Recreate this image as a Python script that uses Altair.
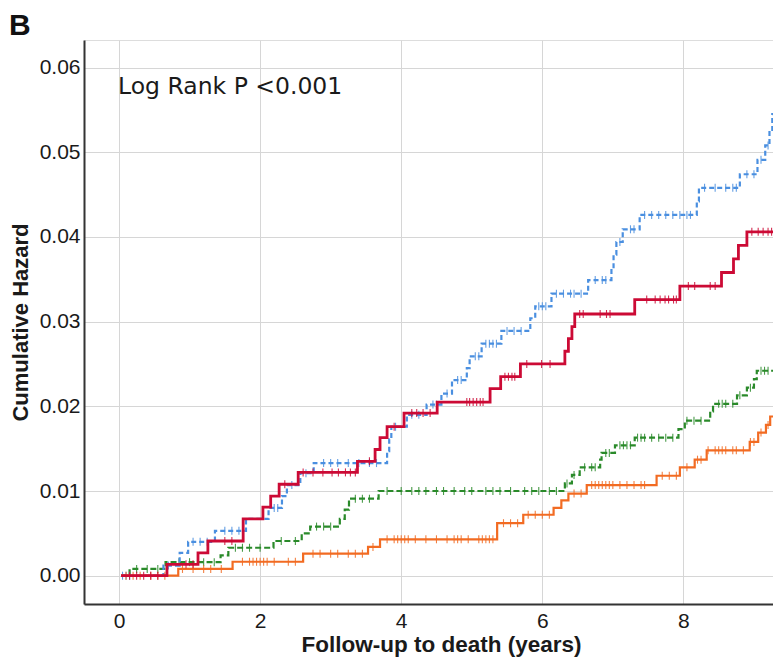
import altair as alt
import numpy as np
import pandas as pd

# ---- step data (time in years, cumulative hazard) ----
red_t = [0.03, 0.68, 1.12, 1.26, 1.76, 2.04, 2.15, 2.27, 2.54, 3.38, 3.63, 3.70, 3.80, 4.04, 4.51,
         5.26, 5.41, 5.69, 6.32, 6.37, 6.42, 6.46, 7.31, 7.95, 8.54, 8.71, 8.78, 8.90, 9.45]
red_y = [0, 0.00135, 0.0027, 0.0041, 0.0067, 0.0081, 0.0094, 0.0108, 0.0122, 0.0135, 0.0149, 0.0163,
         0.0176, 0.0192, 0.0205, 0.0221, 0.0235, 0.0250, 0.0265, 0.0280, 0.0294, 0.0309, 0.0326,
         0.0342, 0.0358, 0.0374, 0.0390, 0.0406, 0.0406]

blue_t = [0.03, 0.63, 0.86, 0.98, 1.36, 1.80, 2.12, 2.31, 2.38, 2.57, 2.76, 3.80, 3.83, 3.86, 4.08,
          4.36, 4.57, 4.72, 4.93, 4.97, 5.14, 5.42, 5.83, 5.90, 6.13, 6.65, 6.98, 7.01, 7.05, 7.14,
          7.38, 8.19, 8.22, 8.80, 9.05, 9.16, 9.22, 9.26, 9.45]
blue_y = [0, 0.0012, 0.0027, 0.0040, 0.0053, 0.0067, 0.0080, 0.0094, 0.0107, 0.0121, 0.0133, 0.0147,
          0.0161, 0.0176, 0.0190, 0.0202, 0.0215, 0.0231, 0.0245, 0.0259, 0.0274, 0.0289, 0.0304,
          0.0318, 0.0333, 0.0349, 0.0363, 0.0379, 0.0394, 0.0409, 0.0426, 0.0442, 0.0458, 0.0474,
          0.0491, 0.0508, 0.0525, 0.0545, 0.0545]

green_t = [0.03, 0.15, 0.66, 1.44, 1.55, 2.19, 2.59, 2.71, 3.13, 3.20, 3.26, 3.68, 6.32, 6.42, 6.53,
           6.82, 6.84, 7.03, 7.31, 7.93, 8.02, 8.38, 8.42, 8.76, 8.90, 9.00, 9.04, 9.45]
green_y = [0, 0.0008, 0.0016, 0.0024, 0.0033, 0.0041, 0.0050, 0.0058, 0.0067, 0.0078, 0.0091, 0.0100,
           0.0109, 0.0119, 0.0128, 0.0137, 0.0145, 0.0154, 0.0163, 0.0173, 0.0183, 0.0194, 0.0203,
           0.0213, 0.0222, 0.0232, 0.0242, 0.0242]

orange_t = [0.03, 0.84, 1.61, 2.61, 3.53, 3.70, 5.36, 5.73, 6.16, 6.27, 6.37, 6.63, 7.62, 7.95, 8.16,
            8.33, 8.94, 9.06, 9.17, 9.23, 9.45]
orange_y = [0, 0.0008, 0.00165, 0.0026, 0.0034, 0.0043, 0.0062, 0.0072, 0.0080, 0.0089, 0.0097,
            0.0107, 0.0118, 0.0128, 0.0137, 0.0148, 0.0158, 0.0169, 0.0178, 0.0188, 0.0188]

# ---- censoring times (+ marks) ----
red_c = [0.15, 0.25, 0.35, 0.45, 0.55, 0.95, 1.05, 1.5, 1.6, 2.35, 2.61, 2.75, 2.89, 3.02, 3.11, 3.21,
         3.28, 3.35, 3.55, 3.9, 4.15, 4.22, 4.31, 4.41, 4.93, 4.97, 5.02, 5.07, 5.12, 5.16, 5.47, 5.52,
         5.57, 5.61, 5.78, 5.99, 6.11, 6.53, 6.58, 6.82, 6.91, 6.96, 7.48, 7.60, 7.67, 7.74, 7.79, 7.86,
         7.90, 8.07, 8.16, 8.38, 8.45, 8.97, 9.06, 9.13, 9.20, 9.25]
blue_c = [0.05, 0.1, 0.15, 0.7, 1.05, 1.15, 1.25, 1.5, 1.6, 1.7, 2.2, 2.25, 2.45, 2.65, 2.9, 3.0, 3.1,
          3.25, 3.4, 3.55, 3.65, 3.92, 4.15, 4.25, 4.45, 4.5, 4.65, 4.8, 4.85, 5.05, 5.1, 5.2, 5.25,
          5.3, 5.35, 5.5, 5.6, 5.7, 5.95, 6.0, 6.05, 6.2, 6.3, 6.4, 6.45, 6.55, 6.75, 6.85, 6.9, 7.1,
          7.25, 7.3, 7.45, 7.55, 7.65, 7.75, 7.85, 7.95, 8.05, 8.1, 8.3, 8.45, 8.6, 8.7, 8.75, 8.9,
          9.0, 9.1, 9.2]
green_c = [0.25, 0.4, 0.55, 0.85, 1.0, 1.2, 1.35, 1.65, 1.75, 1.85, 2.0, 2.3, 2.5, 2.8, 2.9, 3.0,
           3.35, 3.45, 3.55, 3.8, 4.0, 4.15, 4.25, 4.35, 4.5, 4.6, 4.75, 4.9, 5.0, 5.2, 5.3, 5.4,
           5.55, 5.75, 5.85, 5.95, 6.1, 6.2, 6.35, 6.45, 6.6, 6.7, 6.75, 6.9, 6.95, 7.1, 7.15, 7.2,
           7.25, 7.35, 7.4, 7.45, 7.55, 7.65, 7.75, 7.85, 8.05, 8.15, 8.25, 8.5, 8.55, 8.6, 8.7,
           8.8, 8.95, 9.1, 9.15, 9.2]
orange_c = [0.1, 0.2, 0.3, 0.45, 0.55, 0.65, 0.9, 1.05, 1.2, 1.3, 1.45, 1.75, 1.85, 1.9, 1.95, 2.0,
            2.05, 2.1, 2.2, 2.4, 2.5, 2.75, 2.85, 3.0, 3.1, 3.25, 3.35, 3.45, 3.6, 3.8, 3.9, 3.95,
            4.0, 4.05, 4.1, 4.2, 4.35, 4.5, 4.65, 4.75, 4.8, 4.85, 4.95, 5.1, 5.15, 5.2, 5.25, 5.3,
            5.45, 5.55, 5.65, 5.8, 5.9, 6.0, 6.1, 6.45, 6.55, 6.7, 6.75, 6.8, 6.85, 6.9, 6.95, 7.0,
            7.1, 7.2, 7.3, 7.4, 7.45, 7.7, 7.8, 7.9, 8.05, 8.2, 8.25, 8.35, 8.45, 8.5, 8.55, 8.6,
            8.7, 8.75, 8.85, 8.95, 9.0, 9.1, 9.2]

x_ticks = [0, 2, 4, 6, 8]
y_ticks = [0.00, 0.01, 0.02, 0.03, 0.04, 0.05, 0.06]

FONT = "Liberation Sans"
PLOT_W = 689
PLOT_H = 564
X_DOM = [-0.496, 9.270]
Y_DOM = [-0.00334, 0.06325]

x_enc = alt.X("t:Q", scale=alt.Scale(domain=X_DOM, nice=False, zero=False),
              axis=alt.Axis(values=x_ticks, format="d", title="Follow-up to death (years)",
                            labelFontSize=21, labelPadding=6, titleFontSize=22.5,
                            titleFontWeight="bold", titleBaseline="alphabetic",
                            titleX=357, titleY=47, ticks=False,
                            domainColor="#333333", domainWidth=2, gridColor="#d6d6d6",
                            labelColor="#1a1a1a", titleColor="#1a1a1a",
                            labelFont=FONT, titleFont=FONT))
y_enc = alt.Y("y:Q", scale=alt.Scale(domain=Y_DOM, nice=False, zero=False),
              axis=alt.Axis(values=y_ticks, format=".2f", title="Cumulative Hazard",
                            labelFontSize=21, labelPadding=4, titleFontSize=22,
                            titleFontWeight="bold", titleBaseline="alphabetic",
                            titleX=-57, titleY=282, titleAngle=270, ticks=False,
                            domainColor="#333333", domainWidth=2, gridColor="#d6d6d6",
                            labelColor="#1a1a1a", titleColor="#1a1a1a",
                            labelFont=FONT, titleFont=FONT))


def step_layer(t, y, color, width, dash=None):
    df = pd.DataFrame({"t": t, "y": y})
    kw = dict(interpolate="step-after", clip=True, color=color, strokeWidth=width)
    if dash:
        kw["strokeDash"] = dash
    return alt.Chart(df).mark_line(**kw).encode(x=x_enc, y=y_enc)


def censor_layer(t, y, c, color):
    idx = np.searchsorted(np.array(t), np.array(c), side="right") - 1
    idx = np.clip(idx, 0, len(y) - 1)
    df = pd.DataFrame({"t": c, "y": np.array(y)[idx]})
    return alt.Chart(df).mark_point(shape="M0,-1L0,1", size=64, strokeWidth=1.1, filled=False,
                                    color=color, opacity=0.85, clip=True).encode(x=x_enc, y=y_enc)


BLUE = "#4a8fe0"
RED = "#cc0a35"
GREEN = "#2a8a2a"
ORANGE = "#f26b22"

layers = [
    step_layer(green_t, green_y, GREEN, 2.2, [6, 3]),
    censor_layer(green_t, green_y, green_c, GREEN),
    step_layer(blue_t, blue_y, BLUE, 2.2, [5, 3]),
    censor_layer(blue_t, blue_y, blue_c, BLUE),
    step_layer(orange_t, orange_y, ORANGE, 2.2),
    censor_layer(orange_t, orange_y, orange_c, ORANGE),
    step_layer(red_t, red_y, RED, 2.8),
    censor_layer(red_t, red_y, red_c, RED),
]

annot = alt.Chart(pd.DataFrame({"txt": ["Log Rank P <0.001"]})).mark_text(
    align="left", baseline="alphabetic", fontSize=23.5, font="DejaVu Sans", color="#1a1a1a"
).encode(x=alt.value(34), y=alt.value(54), text="txt:N")

panel = alt.Chart(pd.DataFrame({"txt": ["B"]})).mark_text(
    align="left", baseline="alphabetic", fontSize=30, fontWeight="bold", font=FONT, color="#111111"
).encode(x=alt.value(-75), y=alt.value(-5), text="txt:N")

chart = alt.layer(*layers, annot, panel).properties(
    width=PLOT_W, height=PLOT_H,
    autosize=alt.AutoSizeParams(type="none"),
    padding={"left": 76, "top": 32, "right": 0, "bottom": 54},
).configure_view(stroke=None).configure(background="white")

chart.save("out.html", embed_options={"renderer": "svg", "actions": False})
